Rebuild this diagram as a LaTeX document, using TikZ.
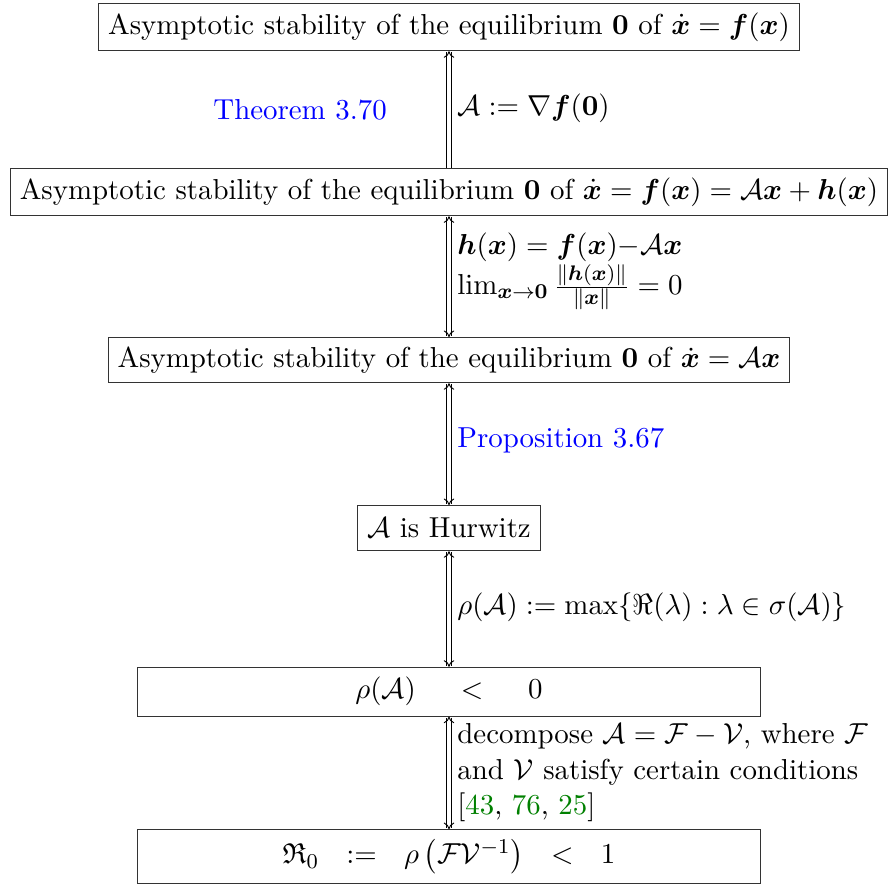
\documentclass[tikz,border=0pt,11pt]{standalone}
\usepackage{amsmath,amssymb,bm}
\usepackage{xcolor}
\usepackage{tikz}
\usetikzlibrary{positioning,arrows.meta}
\definecolor{refblue}{HTML}{0000FF}
\definecolor{refgreen}{HTML}{008000}

\begin{document}
\begin{tikzpicture}[
  box/.style={draw=black!80,fill=white,align=center,inner sep=3.5pt,
              minimum height=0.6cm},
  wide/.style={box,minimum width=8.3cm},
  arr/.style={{To[length=2.5pt,width=4pt]}-{To[length=2.5pt,width=4pt]},double,double distance=1.2pt,line width=0.35pt},
  arrup/.style={arr,-{To[length=2.5pt,width=4pt]}},
  lbl/.style={right,inner sep=2pt,xshift=1pt},
]
\useasboundingbox (0,0) rectangle (11.85,-11.85);

% Boxes down the middle
\node[box] (b1) at (5.985,-0.36)
  {Asymptotic stability of the equilibrium $\mathbf{0}$ of $\dot{\bm{x}}=\bm{f}(\bm{x})$};
\node[box] (b2) at (5.985,-2.56)
  {Asymptotic stability of the equilibrium $\mathbf{0}$ of $\dot{\bm{x}}=\bm{f}(\bm{x})=\mathcal{A}\bm{x}+\bm{h}(\bm{x})$};
\node[box] (b3) at (5.985,-4.80)
  {Asymptotic stability of the equilibrium $\mathbf{0}$ of $\dot{\bm{x}}=\mathcal{A}\bm{x}$};
\node[box] (b4) at (5.985,-7.04) {$\mathcal{A}$ is Hurwitz};
\node[wide,minimum height=0.65cm] (b5) at (5.985,-9.22) {$\rho(\mathcal{A})\quad\;<\quad\;0$};
\node[wide,minimum height=0.72cm] (b6) at (5.985,-11.42)
  {$\mathfrak{R}_0\ \ :=\ \ \rho\left(\mathcal{F}\mathcal{V}^{-1}\right)\ \ <\ \ 1$};

% Connectors
\draw[arrup] (b2) -- (b1);
\draw[arr] (b2) -- (b3);
\draw[arr] (b3) -- (b4);
\draw[arr] (b4) -- (b5);
\draw[arr] (b5) -- (b6);

% Labels beside the connectors
\node[refblue] at (4.0,-1.46) {Theorem 3.70};
\node[lbl] at (5.985,-1.44) {$\mathcal{A}:=\nabla\bm{f}(\mathbf{0})$};
\node[lbl,align=left] at (5.985,-3.62)
  {$\bm{h}(\bm{x})=\bm{f}(\bm{x}){-}\mathcal{A}\bm{x}$\\
   $\lim_{\bm{x}\to\mathbf{0}}\frac{\|\bm{h}(\bm{x})\|}{\|\bm{x}\|}=0$};
\node[lbl,refblue] at (5.985,-5.87) {Proposition 3.67};
\node[lbl] at (5.985,-8.1)
  {$\rho(\mathcal{A}):=\max\{\Re(\lambda):\lambda\in\sigma(\mathcal{A})\}$};
\node[lbl,align=left] at (5.985,-10.3)
  {decompose $\mathcal{A}=\mathcal{F}-\mathcal{V}$, where $\mathcal{F}$\\
   and $\mathcal{V}$ satisfy certain conditions\\
   {[}{\color{refgreen}43}, {\color{refgreen}76}, {\color{refgreen}25}{]}};
\end{tikzpicture}
\end{document}
